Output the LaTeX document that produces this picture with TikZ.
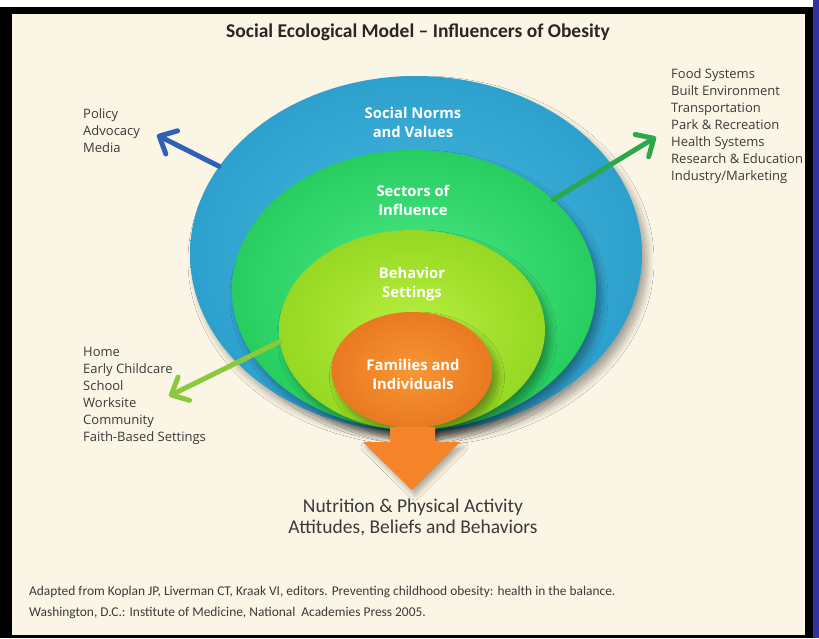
\documentclass[tikz,border=0pt]{standalone}
\usepackage{fontspec}
\setmainfont{Carlito}
\newfontfamily\opensans{Open Sans}
\usetikzlibrary{shapes.geometric,arrows.meta,shadows.blur,calc}

\definecolor{cream}{HTML}{FBF5E5}
\definecolor{strip}{HTML}{3232A0}
\definecolor{ink}{HTML}{3A3A3A}
\definecolor{titleink}{HTML}{262626}
\definecolor{blueIn}{HTML}{44B9E0}
\definecolor{blueOut}{HTML}{2EA0CD}
\definecolor{greenIn}{HTML}{4CEB86}
\definecolor{greenOut}{HTML}{28CD60}
\definecolor{limeIn}{HTML}{B8EF40}
\definecolor{limeOut}{HTML}{96D823}
\definecolor{orangeIn}{HTML}{F89632}
\definecolor{orangeOut}{HTML}{E97922}
\definecolor{arrowBlue}{HTML}{2F62B6}
\definecolor{arrowGreen}{HTML}{2BA84B}
\definecolor{arrowLime}{HTML}{8CC83C}
\definecolor{arrowOrange}{HTML}{F5842A}

\tikzset{
  ring/.style={ellipse, inner sep=0pt, draw=none,
    blur shadow={shadow xshift=5pt, shadow yshift=-7pt, shadow opacity=35,
                 shadow blur radius=7pt, shadow blur steps=12}},
  ringlabel/.style={text=white, align=center, inner sep=0pt,
    font=\opensans\bfseries\fontsize{14.8}{19}\selectfont},
  listtext/.style={text=ink, align=left, inner sep=0pt, anchor=north west,
    font=\opensans\fontsize{13}{17}\selectfont},
  pointer/.style={line width=5pt, line cap=round,
    -{Straight Barb[length=14pt, width=26pt, round]}},
}

\begin{document}
\begin{tikzpicture}[x=1pt, y=-1pt]
\useasboundingbox (0,0) rectangle (819,638);

% frame and page
\fill[white] (0,0) rectangle (813,7);
\fill[black] (0,7) rectangle (813,638);
\fill[cream] (12,14) rectangle (805,635);
\fill[strip] (813,0) rectangle (819,638);

% title
\node[text=titleink, font=\bfseries\fontsize{19.5}{22}\selectfont, inner sep=0pt]
  (title) at (418,32) {Social Ecological Model – Influencers of Obesity};

% nested rings
\node[ring, minimum width=452pt, minimum height=356pt,
      inner color=blueIn, outer color=blueOut] (social) at (416,254) {};
\node[ring, minimum width=364pt, minimum height=280pt,
      inner color=greenIn, outer color=greenOut] (sectors) at (414,290) {};
\node[ring, minimum width=266pt, minimum height=200pt,
      inner color=limeIn, outer color=limeOut] (behavior) at (412,330) {};
\node[ring, minimum width=161pt, minimum height=116pt,
      inner color=orangeIn, outer color=orangeOut] (families) at (412,370) {};

% downward outcome arrow leaving the innermost ring
\fill[arrowOrange, blur shadow={shadow xshift=3pt, shadow yshift=-5pt,
      shadow opacity=30, shadow blur radius=5pt}]
  ($(families.south)+(-22,-1)$) -- ($(families.south)+(23,-1)$)
  -- ($(families.south)+(23,14)$) -- ($(families.south)+(48,14)$)
  -- ($(families.south)+(0,62)$) -- ($(families.south)+(-49,14)$)
  -- ($(families.south)+(-22,14)$) -- cycle;

% ring labels
\node[ringlabel] (lsocial)   at (413,122) {Social Norms\\and Values};
\node[ringlabel] (lsectors)  at (413,200) {Sectors of\\Influence};
\node[ringlabel] (lbehavior) at (412,284) {Behavior\\Settings};
\node[ringlabel] (lfamilies) at (413,374) {Families and\\Individuals};

% side lists
\node[listtext] (policy) at (83,108) {Policy\\Advocacy\\Media};
\node[listtext] (sectorlist) at (671,68) {Food Systems\\Built Environment\\Transportation\\Park \& Recreation\\Health Systems\\Research \& Education\\Industry/Marketing};
\node[listtext] (settings) at (83,347) {Home\\Early Childcare\\School\\Worksite\\Community\\Faith-Based Settings};

% pointers from the rings to their lists
\coordinate (tipBlue)  at (157,135);
\coordinate (tipGreen) at (656,137);
\coordinate (tipLime)  at (169,396);
\draw[pointer, arrowBlue]  (social.156)  -- (tipBlue);
\draw[pointer, arrowGreen] (sectors.33)  -- (tipGreen);
\draw[pointer, arrowLime]  (behavior.185) -- (tipLime);

% outcome text
\node[text=ink, align=center, inner sep=0pt, font=\fontsize{19.5}{21}\selectfont]
  (outcome) at (413,517) {Nutrition \& Physical Activity\\Attitudes, Beliefs and Behaviors};

% source note
\node[text=ink, align=left, inner sep=0pt, anchor=north west,
      font=\fontsize{13.4}{21}\selectfont] (source) at (29,586)
  {Adapted from Koplan JP, Liverman CT, Kraak VI, editors. Preventing childhood obesity: health in the balance.\\
   Washington, D.C.: Institute of Medicine, National\ \ Academies Press 2005.};
\end{tikzpicture}
\end{document}
